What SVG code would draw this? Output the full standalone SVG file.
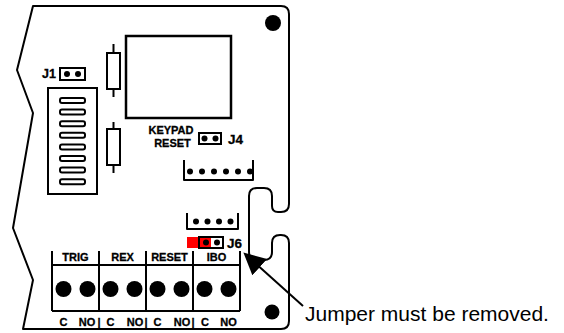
<svg xmlns="http://www.w3.org/2000/svg" width="564" height="333" viewBox="0 0 564 333">
<defs>
<style>
.ln{fill:none;stroke:#000;stroke-width:2;stroke-linejoin:round}
.bx{fill:#fff;stroke:#000;stroke-width:2}
.dot{fill:#000}
.lb{font-family:"Liberation Sans",Arial,Helvetica,sans-serif;font-weight:bold;font-size:11px;fill:#000;stroke:#000;stroke-width:0.3;text-anchor:middle}
.jl{font-family:"Liberation Sans",Arial,Helvetica,sans-serif;font-weight:bold;fill:#000;stroke:#000;stroke-width:0.3}
.note{font-family:"Liberation Sans",Arial,Helvetica,sans-serif;font-size:21px;fill:#000}
</style>
<marker id="ah" markerUnits="userSpaceOnUse" markerWidth="24" markerHeight="24" refX="1" refY="11" orient="auto">
<path d="M0,0 L22,11 L0,22 Z" fill="#000"/>
</marker>
</defs>
<rect width="564" height="333" fill="#fff"/>
<g id="board">
<path class="ln" d="M33 6 L281 6 Q289 6 289 14 L289 204 Q289 212 281 212 L278 212 Q272 212 272 206 L272 196 Q272 188 264 188 L257 188 Q249 188 249 196 L249 252 Q249 260 257 260 L264 260 Q272 260 272 252 L272 243 Q272 235 280 235 L281 235 Q289 235 289 243 L289 321 Q289 329 281 329 L23 329 L33 280 L13 228 L33 113 L17 70 Z"/>
<circle class="dot" cx="273" cy="23" r="8"/>
<circle class="dot" cx="272" cy="312" r="7.5"/>
</g>
<g id="relay">
<rect x="126" y="36" width="105" height="82" fill="none" stroke="#000" stroke-width="2.5"/>
</g>
<g id="resistor1">
<line class="ln" x1="113.5" y1="44" x2="113.5" y2="97"/>
<rect class="bx" x="107" y="53" width="13" height="36"/>
</g>
<g id="resistor2">
<line class="ln" x1="113.5" y1="122" x2="113.5" y2="173"/>
<rect class="bx" x="107" y="129" width="13" height="36"/>
</g>
<g id="connector-left">
<rect class="bx" x="48" y="88" width="49" height="106"/>
<rect class="ln" x="60" y="98" width="25" height="5" rx="2"/>
<rect class="ln" x="60" y="109.6" width="25" height="5" rx="2"/>
<rect class="ln" x="60" y="121.2" width="25" height="5" rx="2"/>
<rect class="ln" x="60" y="132.8" width="25" height="5" rx="2"/>
<rect class="ln" x="60" y="144.4" width="25" height="5" rx="2"/>
<rect class="ln" x="60" y="156" width="25" height="5" rx="2"/>
<rect class="ln" x="60" y="167.6" width="25" height="5" rx="2"/>
<rect class="ln" x="60" y="179.2" width="25" height="5" rx="2"/>
</g>
<g id="J1">
<text class="jl" x="42" y="78" font-size="12.5">J1</text>
<rect class="bx" x="60" y="68" width="25" height="12"/>
<circle class="dot" cx="67" cy="74" r="3"/>
<circle class="dot" cx="78" cy="74" r="3"/>
</g>
<g id="J4">
<text class="lb" x="171" y="134">KEYPAD</text>
<text class="lb" x="172.5" y="147">RESET</text>
<rect class="bx" x="199" y="133" width="22" height="11"/>
<circle class="dot" cx="204.5" cy="138.5" r="3"/>
<circle class="dot" cx="215.5" cy="138.5" r="3"/>
<text class="jl" x="228" y="143.5" font-size="13.5">J4</text>
</g>
<g id="header6">
<polyline class="ln" points="184,160 184,180 253,180 253,160"/>
<circle class="dot" cx="190" cy="171.5" r="3"/>
<circle class="dot" cx="202" cy="171.5" r="3"/>
<circle class="dot" cx="214" cy="171.5" r="3"/>
<circle class="dot" cx="226" cy="171.5" r="3"/>
<circle class="dot" cx="238" cy="171.5" r="3"/>
<circle class="dot" cx="250" cy="171.5" r="3"/>
</g>
<g id="header4">
<polyline class="ln" points="187,213 187,229 238,229 238,213"/>
<circle class="dot" cx="196" cy="221.5" r="3"/>
<circle class="dot" cx="207.5" cy="221.5" r="3"/>
<circle class="dot" cx="219" cy="221.5" r="3"/>
<circle class="dot" cx="230.5" cy="221.5" r="3"/>
</g>
<g id="J6">
<rect x="187" y="237" width="24" height="11" fill="#ff0000"/>
<rect x="199" y="237" width="24" height="11" fill="none" stroke="#000" stroke-width="2"/>
<circle class="dot" cx="206" cy="242.5" r="3"/>
<circle class="dot" cx="217" cy="242.5" r="3"/>
<text class="jl" x="227" y="247.5" font-size="13.5">J6</text>
</g>
<g id="terminal-block">
<line class="ln" x1="52" y1="251" x2="52" y2="311"/>
<line class="ln" x1="99" y1="251" x2="99" y2="311"/>
<line class="ln" x1="146" y1="251" x2="146" y2="311"/>
<line class="ln" x1="193" y1="251" x2="193" y2="311"/>
<line class="ln" x1="240" y1="251" x2="240" y2="311"/>
<line class="ln" x1="52" y1="265" x2="240" y2="265"/>
<line class="ln" x1="52" y1="311" x2="240" y2="311"/>
<text class="lb" x="75.5" y="260.5">TRIG</text>
<text class="lb" x="122.5" y="260.5">REX</text>
<text class="lb" x="169.5" y="260.5">RESET</text>
<text class="lb" x="216.5" y="260.5">IBO</text>
<circle class="dot" cx="63.5" cy="289" r="8"/>
<circle class="dot" cx="87.5" cy="289" r="8"/>
<circle class="dot" cx="110.5" cy="289" r="8"/>
<circle class="dot" cx="134.5" cy="289" r="8"/>
<circle class="dot" cx="157.5" cy="289" r="8"/>
<circle class="dot" cx="181.5" cy="289" r="8"/>
<circle class="dot" cx="204.5" cy="289" r="8"/>
<circle class="dot" cx="228.5" cy="289" r="8"/>
<text class="lb" x="63.5" y="325.5">C</text>
<text class="lb" x="87" y="325.5">NO</text>
<text class="lb" x="99" y="325.5">|</text>
<text class="lb" x="110.5" y="325.5">C</text>
<text class="lb" x="135" y="325.5">NO</text>
<text class="lb" x="146" y="325.5">|</text>
<text class="lb" x="157.5" y="325.5">C</text>
<text class="lb" x="182" y="325.5">NO</text>
<text class="lb" x="193" y="325.5">|</text>
<text class="lb" x="205" y="325.5">C</text>
<text class="lb" x="228.5" y="325.5">NO</text>
</g>
<g id="note">
<text class="note" x="305" y="321">Jumper must be removed.</text>
</g>
<g id="connectors">
<line x1="303" y1="306" x2="259" y2="266.5" stroke="#000" stroke-width="2" marker-end="url(#ah)"/>
</g>
</svg>
